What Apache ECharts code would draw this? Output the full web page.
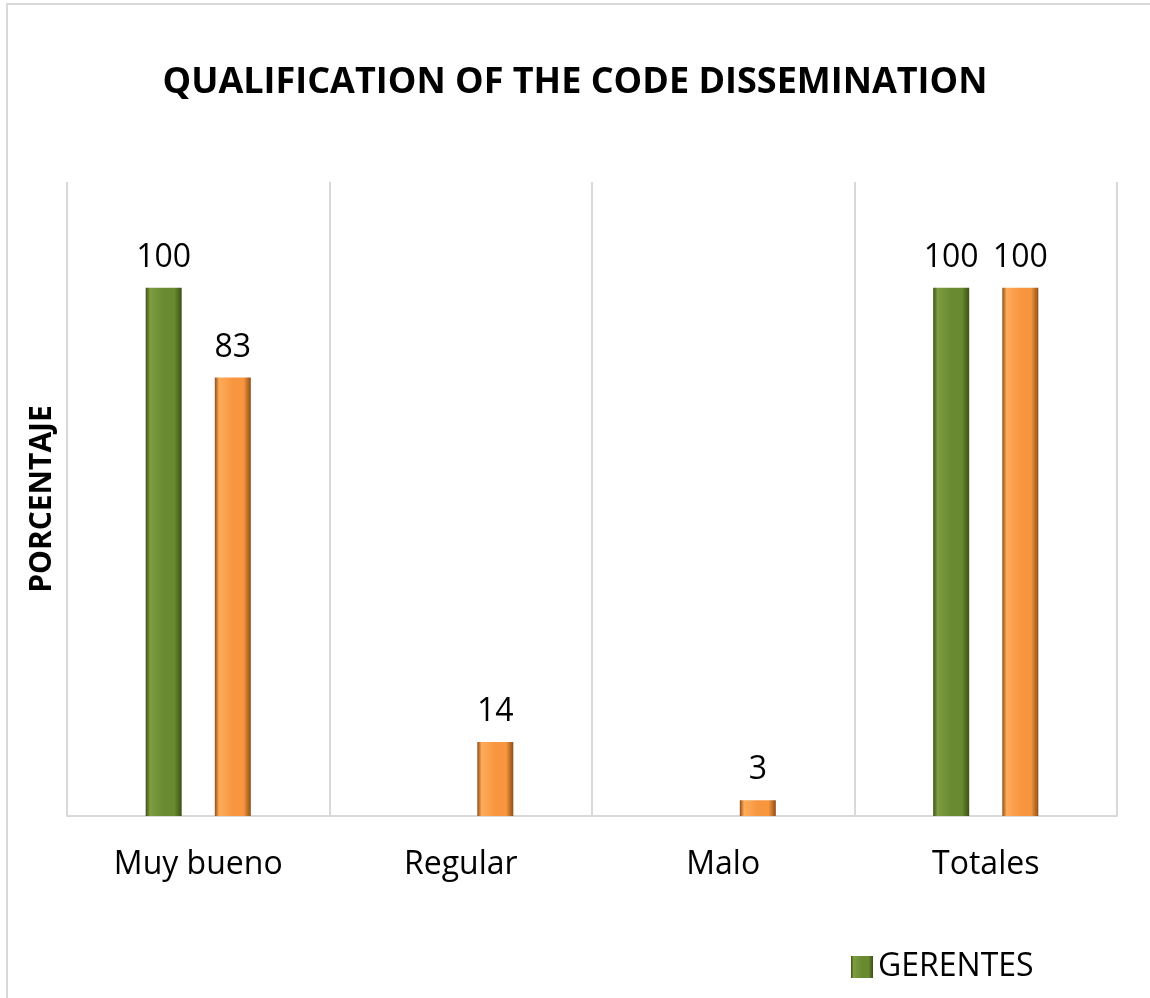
<!DOCTYPE html>
<html>
<head>
<meta charset="utf-8">
<script src="https://cdn.jsdelivr.net/npm/echarts@6/dist/echarts.min.js"></script>
<style>
  html, body { margin: 0; padding: 0; background: #fff; }
</style>
</head>
<body>
<!-- chart container -->
<div id="main" style="width: 1150px;height:998px;"></div>
<script type="text/javascript">
// data
var categories = ['Muy bueno', 'Regular', 'Malo', 'Totales'];
var gerentes = [100, null, null, 100];
var empleados = [83, 14, 3, 100];

var fontName = '"Open Sans", "Noto Sans", sans-serif';

// bevel-ish look: dark edges, lighter middle
function bevel(light, base, dark) {
    return new echarts.graphic.LinearGradient(0, 0, 1, 0, [
        { offset: 0, color: dark },
        { offset: 0.12, color: light },
        { offset: 0.5, color: base },
        { offset: 0.8, color: base },
        { offset: 1, color: dark }
    ]);
}

var myChart = echarts.init(document.getElementById('main'));
var option = {
    backgroundColor: '#fff',
    animation: false,
    graphic: [{
        type: 'rect',
        shape: { x: 7, y: 4, width: 1160, height: 1000 },
        style: { fill: 'none', stroke: '#d9d9d9', lineWidth: 2 }
    }],
    title: {
        text: 'QUALIFICATION OF THE CODE DISSEMINATION',
        left: 'center',
        top: 60,
        textStyle: { fontFamily: fontName, fontSize: 36, fontWeight: 'bold', color: '#000' }
    },
    legend: {
        data: [{ name: 'GERENTES', icon: 'rect' }],
        left: 846,
        top: 946,
        itemWidth: 22,
        itemHeight: 22,
        textStyle: { fontFamily: fontName, fontSize: 32, color: '#000' }
    },
    grid: { left: 67, right: 33, top: 182, bottom: 182 },
    xAxis: {
        type: 'category',
        data: categories,
        axisTick: { show: false },
        axisLine: { lineStyle: { color: '#d9d9d9', width: 2 } },
        splitLine: { show: true, lineStyle: { color: '#d9d9d9', width: 2 } },
        axisLabel: { fontFamily: fontName, fontSize: 32, color: '#000', margin: 33 }
    },
    yAxis: {
        type: 'value',
        min: 0,
        max: 120,
        name: 'PORCENTAJE',
        nameLocation: 'middle',
        nameGap: 10,
        nameRotate: 90,
        nameTextStyle: { fontFamily: fontName, fontSize: 30, fontWeight: 'bold', color: '#000' },
        axisLabel: { show: false },
        axisTick: { show: false },
        axisLine: { show: false },
        splitLine: { show: false }
    },
    series: [{
        name: 'GERENTES',
        type: 'bar',
        data: gerentes,
        barWidth: 36,
        barGap: '92%',
        itemStyle: { color: bevel('#7f9d42', '#698a30', '#3a5016') },
        label: {
            show: true, position: 'top', distance: 14,
            fontFamily: fontName, fontSize: 32, color: '#000'
        }
    }, {
        name: 'EMPLEADOS',
        type: 'bar',
        data: empleados,
        barWidth: 36,
        itemStyle: { color: bevel('#ffab5a', '#f7963f', '#8f4e16') },
        label: {
            show: true, position: 'top', distance: 14,
            fontFamily: fontName, fontSize: 32, color: '#000'
        }
    }]
};
myChart.setOption(option);
</script>
</body>
</html>
